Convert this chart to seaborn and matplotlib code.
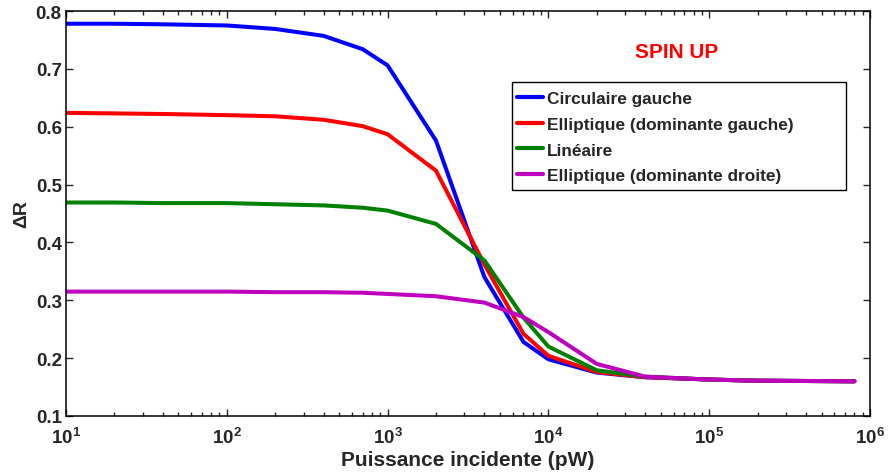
import numpy as np
import pandas as pd
import matplotlib
matplotlib.use("Agg")
import matplotlib.pyplot as plt
import matplotlib.ticker as mticker
import matplotlib.patches as mpatches
import matplotlib.transforms as mtransforms
import seaborn as sns

# =========================
# DATA
# =========================
puissance = [10, 20, 40, 100, 200, 400, 700, 1000, 2000, 4000, 7000,
             10000, 20000, 40000, 100000, 200000, 800000]

circ_gauche = [0.778, 0.778, 0.777, 0.775, 0.769, 0.757, 0.734, 0.706, 0.576,
               0.340, 0.228, 0.198, 0.175, 0.167, 0.163, 0.161, 0.160]
ellip_gauche = [0.624, 0.623, 0.622, 0.620, 0.618, 0.612, 0.601, 0.587, 0.524,
                0.362, 0.242, 0.204, 0.176, 0.167, 0.163, 0.161, 0.160]
lineaire = [0.469, 0.469, 0.468, 0.468, 0.466, 0.464, 0.460, 0.455, 0.432,
            0.369, 0.270, 0.220, 0.179, 0.168, 0.163, 0.161, 0.160]
ellip_droite = [0.315, 0.315, 0.315, 0.315, 0.314, 0.314, 0.313, 0.311, 0.307,
                0.296, 0.271, 0.245, 0.190, 0.168, 0.163, 0.161, 0.160]

labels = ["Circulaire gauche", "Elliptique (dominante gauche)",
          "Linéaire", "Elliptique (dominante droite)"]
colors = ["#0000ff", "#ff0000", "#008000", "#bf00bf"]

# long format for seaborn
series = [circ_gauche, ellip_gauche, lineaire, ellip_droite]
df = pd.concat([pd.DataFrame({"P": puissance, "dR": s, "Polarisation": lab})
                for s, lab in zip(series, labels)], ignore_index=True)

# =========================
# STYLE
# =========================
sns.set_style("ticks")
plt.rcParams['font.family'] = ['Liberation Sans', 'DejaVu Sans']
plt.rcParams['font.weight'] = 'bold'
plt.rcParams['mathtext.fontset'] = 'custom'
plt.rcParams['mathtext.rm'] = 'Liberation Sans:bold'
plt.rcParams['mathtext.bf'] = 'Liberation Sans:bold'
plt.rcParams['mathtext.it'] = 'Liberation Sans:bold'

W, H = 888, 477
fig = plt.figure(figsize=(W / 100, H / 100), dpi=100)
ax = fig.add_axes([66 / W, 1 - 417 / H, (870 - 66) / W, (417 - 12) / H])

sns.lineplot(data=df, x="P", y="dR", hue="Polarisation", palette=colors,
             linewidth=2.9, ax=ax, sort=False, legend=True)

ax.set_xscale("log")
ax.set_xlim(10, 1e6)
ax.set_ylim(0.1, 0.8)
ax.set_yticks(np.arange(0.1, 0.81, 0.1))
ax.yaxis.set_major_formatter(mticker.FormatStrFormatter('%.1f'))
ax.xaxis.set_major_formatter(mticker.FuncFormatter(lambda v, p: r'$10^{%d}$' % round(np.log10(v))))
ax.xaxis.set_minor_locator(mticker.LogLocator(base=10, subs=np.arange(2, 10), numticks=20))
ax.xaxis.set_minor_formatter(mticker.NullFormatter())

ax.tick_params(axis='both', which='both', direction='in', top=True, right=True,
               labelsize=13.5, width=1.0)
ax.tick_params(axis='y', pad=3)
ax.tick_params(axis='x', pad=8)
ax.tick_params(axis='both', which='major', length=5)
ax.tick_params(axis='x', which='minor', length=3)
for sp in ax.spines.values():
    sp.set_visible(True)
    sp.set_linewidth(1.1)
    sp.set_color('black')

ax.set_xlabel("Puissance incidente (pW)", fontsize=15, fontweight='bold', labelpad=2)
ax.set_ylabel("ΔR", fontsize=14, fontweight='bold', labelpad=4)

leg = ax.legend(loc='upper left', bbox_to_anchor=(517 / W, 1 - 92 / H),
                bbox_transform=fig.transFigure, frameon=False,
                fontsize=12.4, handlelength=1.5, handletextpad=0.25,
                borderpad=0, labelspacing=0.62, borderaxespad=0)
leg.set_zorder(6)
for t in leg.get_texts():
    t.set_fontweight('bold')
for h in leg.get_lines():
    h.set_linewidth(3.0)

# legend frame, MATLAB-like (wider than the text)
frame = mpatches.Rectangle((512, H - 191), 334, 108, transform=mtransforms.IdentityTransform(),
                           facecolor='white', edgecolor='black', linewidth=1.0,
                           zorder=5, clip_on=False)
ax.add_patch(frame)

ax.text(677, H - 53, "SPIN UP", transform=mtransforms.IdentityTransform(), color='red',
        fontsize=15, fontweight='bold', ha='center', va='center')

fig.savefig("out.png", dpi=100)
